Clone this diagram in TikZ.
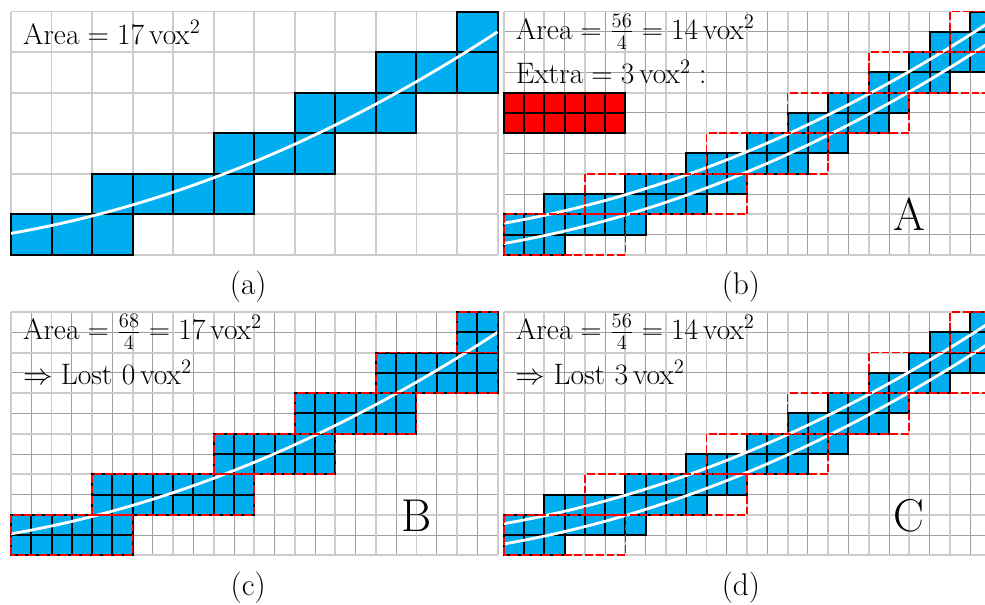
\documentclass[tikz,border=0pt]{standalone}
\usepackage{amsmath}
\usepackage{xcolor}
\usepackage{tikz}
\definecolor{voxblue}{HTML}{00AEEF}
\definecolor{voxred}{HTML}{FF0000}
\definecolor{gridfine}{HTML}{A0A0A0}
\definecolor{gridcoarse}{HTML}{CCCCCC}
% coarse voxels as row/first col/last col
\newcommand{\coarseruns}{0/0/2,1/2/5,2/5/7,3/7/9,4/9/11,5/11/11}
% fine voxels of the thick band, same layout
\newcommand{\bandruns}{0/0/2,1/0/6,2/2/9,3/6/11,4/9/14,5/12/16,6/14/18,7/16/19,8/18/21,9/20/23,10/21/23,11/23/23}

\begin{document}
\begin{tikzpicture}[
  finegrid/.style={draw=gridfine, line width=0.6pt},
  coarsegrid/.style={draw=gridcoarse, line width=1.3pt},
  vox/.style={fill=voxblue, draw=black, line width=1.4pt},
  extravox/.style={vox, fill=voxred},
  runbox/.style={draw=voxred, line width=1.2pt, dash pattern=on 5.5pt off 2pt},
  whitecurve/.style={draw=white, line width=2pt},
  txt/.style={anchor=base west, inner sep=0pt, font=\fontsize{22}{26}\selectfont},
  panellabel/.style={anchor=base, inner sep=0pt, font=\fontsize{32.3}{38}\selectfont},
  subcap/.style={anchor=base, inner sep=0pt, font=\fontsize{22}{26}\selectfont}]
  \useasboundingbox (-0.271,-8.627) rectangle (24.02,6.285);

  % (a) coarse voxels
  \begin{scope}
    \draw[coarsegrid] (0,0) grid (12,6);
    \foreach \r/\a/\b in \coarseruns {
      \foreach \c in {\a,...,\b} \draw[vox] (\c,\r) rectangle ++(1,1);
    }
    \draw[whitecurve] (0,0.53) .. controls (4,1.226) and (8,2.883) .. (12,5.5);
    \node[txt] (areaA) at (0.29,5.19) {$\mathrm{Area} = 17\,\mathrm{vox}^2$};
  \end{scope}

  % (b) fine voxels of the band
  \begin{scope}[shift={(12.152,0)}, scale=0.5]
    \draw[finegrid] (0,0) grid (24,12);
    \draw[coarsegrid, step=2] (0,0) grid (24,12);
    \foreach \c in {0,...,5} {
      \draw[extravox] (\c,6) rectangle ++(1,1);
      \draw[extravox] (\c,7) rectangle ++(1,1);
    }
    \foreach \r/\a/\b in \bandruns {
      \foreach \c in {\a,...,\b} \draw[vox] (\c,\r) rectangle ++(1,1);
    }
    \draw[whitecurve] (0,1.56) .. controls (8,2.952) and (16,6.266) .. (24,11.5);
    \draw[whitecurve] (0,0.56) .. controls (8,1.952) and (16,5.266) .. (24,10.5);
    \foreach \r/\a/\b in \coarseruns
      \draw[runbox] ({2*\a},{2*\r}) rectangle ({2*\b+2},{2*\r+2});
    \node[txt] (areaB) at (0.58,10.64) {$\mathrm{Area} = \frac{56}{4} = 14\,\mathrm{vox}^2$};
    \node[txt] (extraB) at (0.58,8.44) {$\mathrm{Extra} = 3\,\mathrm{vox}^2:$};
    \node[panellabel] (tagA) at (20,1.22) {A};
  \end{scope}

  % (c) fine voxels filling the coarse ones
  \begin{scope}[shift={(0,-7.41)}, scale=0.5]
    \draw[finegrid] (0,0) grid (24,12);
    \draw[coarsegrid, step=2] (0,0) grid (24,12);
    \foreach \r/\a/\b in \coarseruns {
      \foreach \c in {\a,...,\b}
        \foreach \dx in {0,1}
          \foreach \dy in {0,1}
            \draw[vox] ({2*\c+\dx},{2*\r+\dy}) rectangle ++(1,1);
    }
    \draw[whitecurve] (0,1.06) .. controls (8,2.452) and (16,5.766) .. (24,11);
    \foreach \r/\a/\b in \coarseruns
      \draw[runbox] ({2*\a},{2*\r}) rectangle ({2*\b+2},{2*\r+2});
    \node[txt] (areaC) at (0.58,10.64) {$\mathrm{Area} = \frac{68}{4} = 17\,\mathrm{vox}^2$};
    \node[txt] (lostC) at (0.58,8.44) {$\Rightarrow \mathrm{Lost}\ 0\,\mathrm{vox}^2$};
    \node[panellabel] (tagB) at (20,1.2) {B};
  \end{scope}

  % (d) band again, without the extra voxels
  \begin{scope}[shift={(12.152,-7.41)}, scale=0.5]
    \draw[finegrid] (0,0) grid (24,12);
    \draw[coarsegrid, step=2] (0,0) grid (24,12);
    \foreach \r/\a/\b in \bandruns {
      \foreach \c in {\a,...,\b} \draw[vox] (\c,\r) rectangle ++(1,1);
    }
    \draw[whitecurve] (0,1.56) .. controls (8,2.952) and (16,6.266) .. (24,11.5);
    \draw[whitecurve] (0,0.56) .. controls (8,1.952) and (16,5.266) .. (24,10.5);
    \foreach \r/\a/\b in \coarseruns
      \draw[runbox] ({2*\a},{2*\r}) rectangle ({2*\b+2},{2*\r+2});
    \node[txt] (areaD) at (0.58,10.64) {$\mathrm{Area} = \frac{56}{4} = 14\,\mathrm{vox}^2$};
    \node[txt] (lostD) at (0.58,8.44) {$\Rightarrow \mathrm{Lost}\ 3\,\mathrm{vox}^2$};
    \node[panellabel] (tagC) at (20,1.2) {C};
  \end{scope}

  % captions
  \node[subcap] (capA) at (5.85,-0.98) {(a)};
  \node[subcap] (capB) at (18.0,-0.98) {(b)};
  \node[subcap] (capC) at (5.85,-8.39) {(c)};
  \node[subcap] (capD) at (18.0,-8.39) {(d)};
\end{tikzpicture}
\end{document}
